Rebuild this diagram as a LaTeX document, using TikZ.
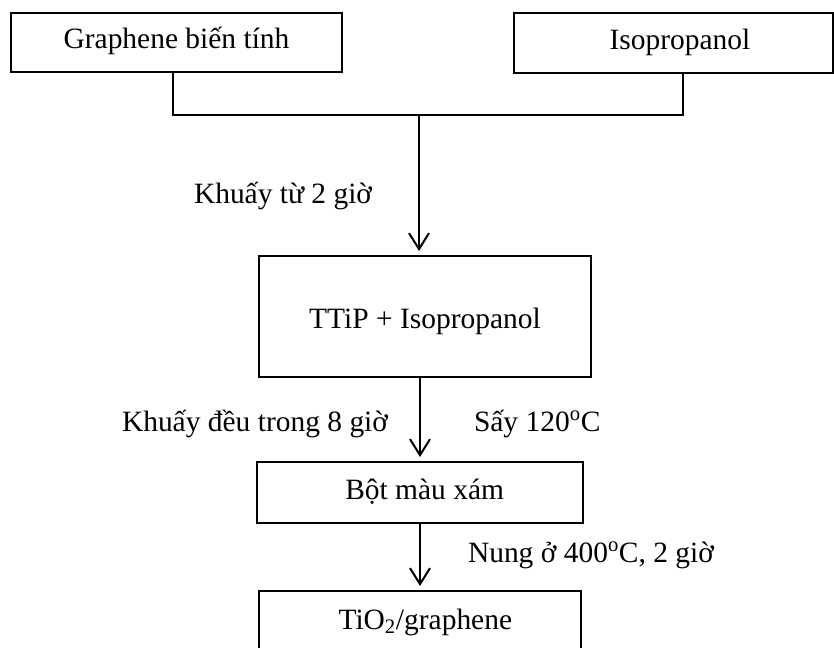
\documentclass[tikz,border=0pt]{standalone}
\usepackage{fontspec}
\setmainfont{Liberation Serif}
\usetikzlibrary{arrows.meta}
\begin{document}
\begin{tikzpicture}[x=0.75pt,y=-0.75pt,
  font=\fontsize{22.1}{26}\selectfont,
  line width=1.5pt,
  box/.style n args={3}{draw, line width=1.5pt, inner sep=0pt,
    minimum width=#1*0.75pt, minimum height=#2*0.75pt,
    text height=#3*0.75pt, text depth=0pt},
  flow/.style={-{Straight Barb[length=12pt,width=15pt]}, shorten >=3pt},
  lbl/.style={anchor=base west, inner sep=0pt}]
\useasboundingbox (0,0) rectangle (834,647);
\clip (0,0) rectangle (834,647);

% boxes
\node[box={331}{59}{11}] (b1) at (176.5,42.5) {Graphene biến tính};
\node[box={319}{60}{13}] (b2) at (673.5,43) {\hspace*{9.75pt}Isopropanol};
\node[box={332}{121}{23}] (b3) at (425,316.5) {TTiP + Isopropanol};
\node[box={326}{61}{13}] (b4) at (420,492.5) {\hspace*{7pt}Bột màu xám};
\node[box={322}{64}{12}] (b5) at (420,623) {\hspace*{8pt}TiO\textsubscript{2}/graphene};

% junction points
\coordinate (j1) at (173,115);
\coordinate (j2) at (683,115);
\coordinate (jm) at (419,115);

% connectors
\draw (b1.south -| j1) -- (j1) -- (j2) -- (b2.south -| j2);
\draw[flow] (jm) -- (jm |- b3.north);
\draw[flow] (b3.south -| b4.north) -- (b4.north);
\draw[flow] (b4.south) -- (b5.north);

% labels
\node[lbl] (l1) at (193,203) {Khuấy từ 2 giờ};
\node[lbl] (l2) at (121,431) {Khuấy đều trong 8 giờ};
\node[lbl] (l3) at (473,431) {Sấy 120\textsuperscript{o}C};
\node[lbl] (l4) at (467,562) {Nung ở 400\textsuperscript{o}C, 2 giờ};
\end{tikzpicture}
\end{document}
